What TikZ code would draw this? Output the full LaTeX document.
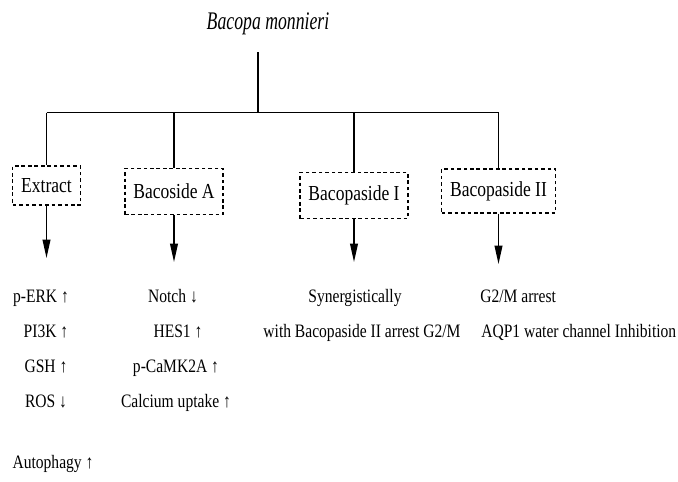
\documentclass[tikz,border=0pt]{standalone}
\usepackage{fontspec}
\setmainfont[FakeStretch=0.82]{Liberation Serif}
\newfontfamily\titlefont[FakeStretch=0.7]{Liberation Serif}
\usetikzlibrary{arrows.meta,positioning}
\tikzset{dbox/.style={draw, dash pattern=on 2.6pt off 2pt, line width=0.9pt, inner xsep=0.21cm, minimum height=1.15cm, font=\fontsize{15.2}{18}\selectfont}}
\tikzset{arr/.style={draw, -{Triangle[length=13pt,width=5.5pt]}, line width=1pt}}
\tikzset{branch/.style={draw, line width=1pt}}
\tikzset{lbl/.style={inner sep=0pt, anchor=base}}

\begin{document}
\begin{tikzpicture}[x=0.025cm, y=-0.025cm, every node/.style={font=\fontsize{13.5}{16}\selectfont}]
				\useasboundingbox (0,0) rectangle (678,481);
				\node[font=\titlefont\itshape\fontsize{18}{21}\selectfont] (title) at (268,24) {Bacopa monnieri};
				\coordinate (stem) at (258,52);
				\coordinate (hub) at (258,112.5);

				\node[dbox, minimum height=0.98cm] (ext) at (46.5,185.5) {Extract};
				\node[dbox] (bcA) at (174,191.5) {Bacoside A};
				\node[dbox] (bpI) at (354,195.5) {Bacopaside I};
				\node[dbox, minimum height=1.1cm] (bpII) at (498.5,191) {Bacopaside II};

				\draw[branch] (stem) -- (hub);
				\draw[branch] (ext.north |- hub) -- (bpII.north |- hub);
				\draw[branch] (ext.north |- hub) -- (ext.north);
				\draw[branch] (bcA.north |- hub) -- (bcA.north);
				\draw[branch] (bpI.north |- hub) -- (bpI.north);
				\draw[branch] (bpII.north |- hub) -- (bpII.north);

				\coordinate (ext-end) at (46.5,258);
				\coordinate (bcA-end) at (174,262);
				\coordinate (bpI-end) at (354,262);
				\coordinate (bpII-end) at (498.5,264);
				\draw[arr] (ext.south) -- (ext-end);
				\draw[arr] (bcA.south) -- (bcA-end);
				\draw[arr] (bpI.south) -- (bpI-end);
				\draw[arr] (bpII.south) -- (bpII-end);

				% Extract
				\node[lbl] (erk) at (41,302) {p-ERK ↑};
				\node[lbl] (pik) at (46,337) {PI3K ↑};
				\node[lbl] (gsh) at (46,372) {GSH ↑};
				\node[lbl] (ros) at (46,407) {ROS ↓};
				\node[lbl] (aut) at (53,468) {Autophagy ↑};
				% Bacoside A
				\node[lbl] (notch) at (173,302) {Notch ↓};
				\node[lbl] (hes) at (178,337) {HES1 ↑};
				\node[lbl] (camk) at (176,372) {p-CaMK2A ↑};
				\node[lbl] (calc) at (176,407) {Calcium uptake ↑};
				% Bacopaside I
				\node[lbl] (syn) at (355,302) {Synergistically};
				\node[lbl] (withII) at (362,337) {with Bacopaside II arrest G2/M};
				% Bacopaside II
				\node[lbl, anchor=base west] (gtm) at (480,302) {G2/M arrest};
				\node[lbl, anchor=base west] (aqp) at (481,337) {AQP1 water channel Inhibition};
			\end{tikzpicture}
\end{document}
